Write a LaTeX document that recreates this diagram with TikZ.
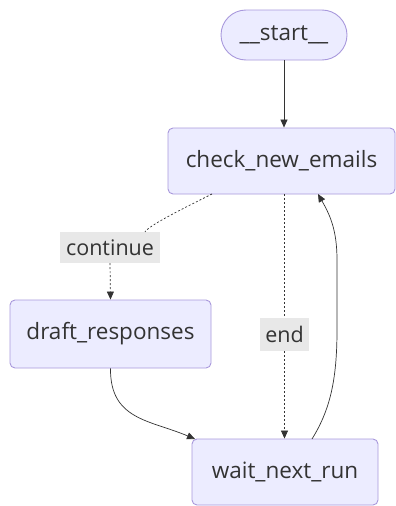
\documentclass[tikz,border=0pt]{standalone}
\usepackage{fontspec}
\setmainfont{Open Sans}
\usetikzlibrary{arrows.meta,shapes.misc}
\definecolor{nodefill}{HTML}{ECECFF}
\definecolor{nodedraw}{HTML}{A898DC}
\definecolor{txt}{HTML}{333333}
\definecolor{lblbg}{HTML}{E8E8E8}
\tikzset{
  box/.style={draw=nodedraw, fill=nodefill, line width=0.9pt, rounded corners=5pt,
    text=txt, font=\fontsize{22.5}{26}\selectfont, inner sep=0pt},
  stad/.style={draw=nodedraw, fill=nodefill, line width=0.9pt, rounded rectangle,
    text=txt, font=\fontsize{22.5}{26}\selectfont, inner sep=0pt},
  lbl/.style={fill=lblbg, text=txt, font=\fontsize{21.5}{25}\selectfont, inner sep=0pt},
  edge/.style={draw=txt, line width=0.7pt, -{Triangle[length=8pt,width=7pt]}},
  dedge/.style={edge, dash pattern=on 2pt off 2pt},
  dline/.style={draw=txt, line width=0.7pt, dash pattern=on 2pt off 2pt},
}
\begin{document}
\begin{tikzpicture}[x=1pt,y=-1pt]
\useasboundingbox (0,0) rectangle (396,506);
\node[stad, minimum width=126pt, minimum height=50pt] (start) at (284,35) {\_\_start\_\_};
\node[box, minimum width=227pt, minimum height=66pt] (check) at (281.5,161) {check\_new\_emails};
\node[lbl, minimum width=100pt, minimum height=31pt] (cont) at (110,247.5) {continue};
\node[box, minimum width=201pt, minimum height=68pt] (draft) at (110.5,334) {draft\_responses};
\node[lbl, minimum width=49pt, minimum height=33pt] (endl) at (284.5,334.5) {end};
\node[box, minimum width=186pt, minimum height=66pt] (wait) at (285,472) {wait\_next\_run};
\coordinate (cs) at (212,194);
\coordinate (ws) at (195,439);
\coordinate (wr) at (312,439);
\coordinate (ce) at (318,194);
\draw[edge] (start.south) -- (check.north -| start.south);
\draw[dline] (cs) .. controls (180,210) and (150,225) .. (cont.north east -| 145,0);
\draw[dedge] (cont.south) -- (draft.north);
\draw[dline] (check.south -| endl.north) -- (endl.north);
\draw[dedge] (endl.south) -- (wait.north -| endl.south);
\draw[edge] (draft.south) .. controls (110,420) and (150,420) .. (ws);
\draw[edge] (wr) .. controls (330,410) and (337,380) .. (337,330) -- (337,260) .. controls (337,230) and (330,215) .. (ce);
\end{tikzpicture}
\end{document}
